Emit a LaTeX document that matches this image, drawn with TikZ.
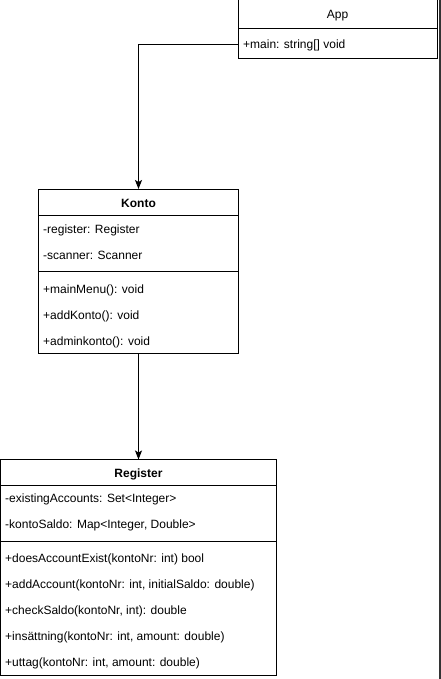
\documentclass[tikz,border=0pt]{standalone}
\usepackage{fontspec}
\setmainfont{Liberation Sans}
\usetikzlibrary{arrows.meta}
\begin{document}
\begin{tikzpicture}[x=1pt,y=-1pt,
  umlbox/.style={draw=black, line width=1pt, fill=white, anchor=north west, inner sep=0pt, outer sep=0pt},
  title/.style={font=\fontsize{12}{14}\selectfont\bfseries, anchor=base, inner sep=0pt},
  plaintitle/.style={font=\fontsize{12}{14}\selectfont, anchor=base, inner sep=0pt},
  member/.style={font=\fontsize{12}{14}\selectfont, anchor=base west, inner sep=0pt},
  divider/.style={line width=1pt},
  conn/.style={line width=1pt, -{Stealth[length=9pt,width=7pt,inset=2pt]}}
]
\useasboundingbox (0,0) rectangle (441,679);
\clip (0,0) rectangle (441,679);
\fill[white] (0,0) rectangle (441,679);

% right edge bar
\fill[black!80] (439,0) rectangle (441,679);

% App
\node[umlbox, minimum width=199pt, minimum height=61pt] (app) at (238,-2) {};
\draw[divider] (238,29) -- (437,29);
\node[plaintitle] (apptitle) at (337.5,18.5) {App};
\node[inner sep=0pt, minimum width=199pt, minimum height=30pt, anchor=north west] (appmain) at (238,29) {};
\node[member] (appm1) at (243,48.5) {+main: string[] void};

% Konto
\node[umlbox, minimum width=200pt, minimum height=164pt] (konto) at (38.5,189) {};
\draw[divider] (38.5,215) -- (238.5,215);
\draw[divider] (38.5,271) -- (238.5,271);
\node[title] (kontotitle) at (138.5,207) {Konto};
\node[member] (k1) at (43,233) {-register: Register};
\node[member] (k2) at (43,259) {-scanner: Scanner};
\node[member] (k3) at (43,293) {+mainMenu(): void};
\node[member] (k4) at (43,319) {+addKonto(): void};
\node[member] (k5) at (43,345) {+adminkonto(): void};

% Register
\node[umlbox, minimum width=276pt, minimum height=216pt] (register) at (0.5,459.5) {};
\draw[divider] (0.5,485.5) -- (276.5,485.5);
\draw[divider] (0.5,541.5) -- (276.5,541.5);
\node[title] (regtitle) at (138.5,477) {Register};
\node[member] (r1) at (5,502.5) {-existingAccounts: Set<Integer>};
\node[member] (r2) at (5,528.5) {-kontoSaldo: Map<Integer, Double>};
\node[member] (r3) at (5,562.5) {+doesAccountExist(kontoNr: int) bool};
\node[member] (r4) at (5,588.5) {+addAccount(kontoNr: int, initialSaldo: double)};
\node[member] (r5) at (5,614.5) {+checkSaldo(kontoNr, int): double};
\node[member] (r6) at (5,640.5) {+insättning(kontoNr: int, amount: double)};
\node[member] (r7) at (5,666.5) {+uttag(kontoNr: int, amount: double)};

% connectors
\draw[conn] (appmain.west) -| (konto.north);
\draw[conn] (konto.south) -- (register.north);
\end{tikzpicture}
\end{document}
